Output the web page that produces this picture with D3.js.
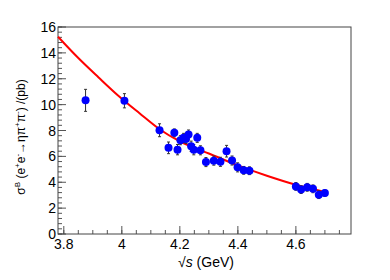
<!DOCTYPE html>
<html>
<head>
<meta charset="utf-8">
<script src="https://cdn.jsdelivr.net/npm/d3@7"></script>
<style>
  body { margin: 0; background: #fff; }
  text { font-family: "Liberation Sans", Arial, sans-serif; fill: #000; }
</style>
</head>
<body>
<div class="canvas"></div>
<script>
// energies (GeV), cross sections (pb), errors
const energy = [3.875, 4.009, 4.130, 4.161, 4.181, 4.192, 4.202, 4.213, 4.221, 4.230, 4.239, 4.248,
  4.260, 4.271, 4.290, 4.317, 4.340, 4.361, 4.380, 4.399, 4.420, 4.440,
  4.600, 4.618, 4.639, 4.659, 4.679, 4.700];
const sigma = [10.33, 10.3, 8.02, 6.66, 7.82, 6.52, 7.25, 7.43, 7.35, 7.69, 6.78, 6.52,
  7.43, 6.47, 5.56, 5.67, 5.58, 6.4, 5.68, 5.15, 4.92, 4.89,
  3.68, 3.43, 3.61, 3.49, 3.04, 3.16];
const sigmaErr = [0.85, 0.55, 0.5, 0.45, 0.3, 0.4, 0.35, 0.35, 0.35, 0.35, 0.4, 0.4,
  0.35, 0.35, 0.35, 0.35, 0.35, 0.45, 0.35, 0.35, 0.3, 0.3,
  0.3, 0.3, 0.3, 0.3, 0.3, 0.25];

// fit curve
const fitX = [3.78, 3.85, 3.92, 3.99, 4.06, 4.13, 4.2, 4.25, 4.3, 4.4, 4.5, 4.6, 4.7];
const fitY = [15.25, 13.6, 12.1, 10.65, 9.35, 8.1, 7.17, 6.66, 6.22, 5.3, 4.5, 3.8, 3.24];

const xTicks = [3.8, 4, 4.2, 4.4, 4.6];
const yTicks = [0, 2, 4, 6, 8, 10, 12, 14, 16];

const W = 390, H = 280;
const m = { left: 58, right: 39, top: 27, bottom: 46 };

const svg = d3.select('.canvas').append('svg')
  .attr('width', W).attr('height', H);

const x = d3.scaleLinear().domain([3.78, 4.79]).range([m.left, W - m.right]);
const y = d3.scaleLinear().domain([0, 16]).range([H - m.bottom, m.top]);

// minor ticks
const xMinor = d3.range(3.8, 4.79, 0.05);
const yMinor = d3.range(0, 16.01, 0.4);

svg.append('g').selectAll('line').data(xMinor).join('line')
  .attr('x1', d => x(d)).attr('x2', d => x(d))
  .attr('y1', y(0)).attr('y2', y(0) - 4)
  .attr('stroke', '#555');
svg.append('g').selectAll('line').data(xTicks).join('line')
  .attr('x1', d => x(d)).attr('x2', d => x(d))
  .attr('y1', y(0)).attr('y2', y(0) - 8)
  .attr('stroke', '#555');
svg.append('g').selectAll('line').data(yMinor).join('line')
  .attr('x1', x.range()[0]).attr('x2', x.range()[0] + 4)
  .attr('y1', d => y(d)).attr('y2', d => y(d))
  .attr('stroke', '#555');
svg.append('g').selectAll('line').data(yTicks).join('line')
  .attr('x1', x.range()[0]).attr('x2', x.range()[0] + 8)
  .attr('y1', d => y(d)).attr('y2', d => y(d))
  .attr('stroke', '#555');

// frame
svg.append('rect')
  .attr('x', x.range()[0]).attr('y', y.range()[1])
  .attr('width', x.range()[1] - x.range()[0])
  .attr('height', y.range()[0] - y.range()[1])
  .attr('fill', 'none').attr('stroke', '#444');

// tick labels
svg.append('g').selectAll('text').data(xTicks).join('text')
  .attr('x', d => x(d)).attr('y', y(0) + 15)
  .attr('text-anchor', 'middle')
  .style('font-size', '14px')
  .text(d => d3.format('')(d));
svg.append('g').selectAll('text').data(yTicks).join('text')
  .attr('x', x.range()[0] - 2).attr('y', d => y(d) + 5)
  .attr('text-anchor', 'end')
  .style('font-size', '14px')
  .text(d => d);

// axis titles
const xt = svg.append('text')
  .attr('x', 206).attr('y', 267)
  .attr('text-anchor', 'middle')
  .style('font-size', '14px');
xt.append('tspan').text('\u221A');
xt.append('tspan').style('font-style', 'italic').text('s');
xt.append('tspan').text(' (GeV)');

const yt = svg.append('text')
  .attr('transform', 'translate(25,137) rotate(-90)')
  .attr('text-anchor', 'middle')
  .style('font-size', '12px');
yt.append('tspan').text('\u03C3');
yt.append('tspan').attr('dy', -5).style('font-size', '8px').text('B');
yt.append('tspan').attr('dy', 5).text(' (e');
yt.append('tspan').attr('dy', -5).style('font-size', '8px').text('+');
yt.append('tspan').attr('dy', 5).text('e');
yt.append('tspan').attr('dy', -5).style('font-size', '8px').text('-');
yt.append('tspan').attr('dy', 5).text('\u2192\u03B7\u03C0');
yt.append('tspan').attr('dy', -5).style('font-size', '8px').text('+');
yt.append('tspan').attr('dy', 5).text('\u03C0');
yt.append('tspan').attr('dy', -5).style('font-size', '8px').text('-');
yt.append('tspan').attr('dy', 5).text(') /(pb)');

// data table
const pts = energy.map((e, i) => ({ e, s: sigma[i], err: sigmaErr[i] }));

// fit line
const line = d3.line()
  .x(d => x(d[0])).y(d => y(d[1]))
  .curve(d3.curveMonotoneX);
svg.append('path')
  .datum(d3.zip(fitX, fitY))
  .attr('d', line)
  .attr('fill', 'none')
  .attr('stroke', '#ff0000')
  .attr('stroke-width', 2);

// error bars
const eb = svg.append('g').attr('stroke', '#333').attr('stroke-width', 1);
eb.selectAll('line.v').data(pts).join('line').attr('class', 'v')
  .attr('x1', d => x(d.e)).attr('x2', d => x(d.e))
  .attr('y1', d => y(d.s - d.err)).attr('y2', d => y(d.s + d.err));
eb.selectAll('line.t').data(pts).join('line').attr('class', 't')
  .attr('x1', d => x(d.e) - 1.5).attr('x2', d => x(d.e) + 1.5)
  .attr('y1', d => y(d.s + d.err)).attr('y2', d => y(d.s + d.err));
eb.selectAll('line.b').data(pts).join('line').attr('class', 'b')
  .attr('x1', d => x(d.e) - 1.5).attr('x2', d => x(d.e) + 1.5)
  .attr('y1', d => y(d.s - d.err)).attr('y2', d => y(d.s - d.err));

// markers
svg.append('g').selectAll('circle').data(pts).join('circle')
  .attr('cx', d => x(d.e)).attr('cy', d => y(d.s))
  .attr('r', 4)
  .attr('fill', '#0000ff');
</script>
</body>
</html>
